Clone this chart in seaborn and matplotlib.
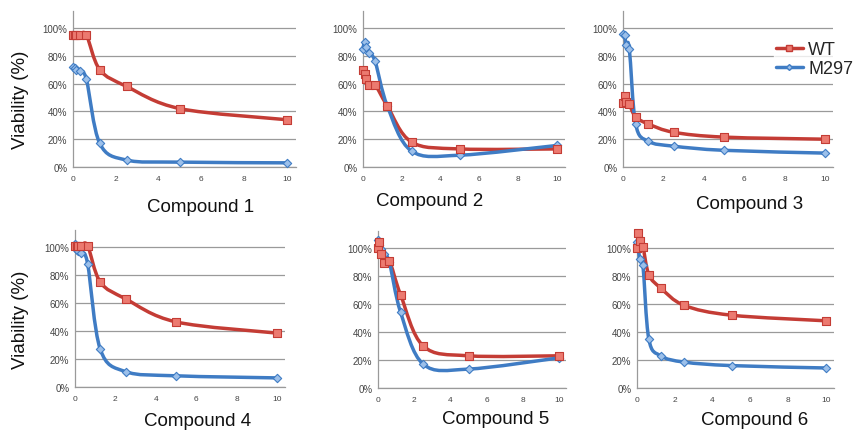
import numpy as np
import pandas as pd
import matplotlib
matplotlib.use("Agg")
import matplotlib.pyplot as plt
from matplotlib.path import Path
from matplotlib.patches import PathPatch
from matplotlib.lines import Line2D
import seaborn as sns

conc = [0, 0.078, 0.156, 0.3125, 0.625, 1.25, 2.5, 5, 10]
compounds = ["Compound 1", "Compound 2", "Compound 3",
             "Compound 4", "Compound 5", "Compound 6"]
wt = [
    [95, 95, 95, 95, 95, 70, 58, 42, 34],
    [70, 67, 63, 59, 59, 44, 18, 13, 13],
    [46, 51, 47, 45, 36, 31, 25, 21.5, 20],
    [101, 101, 101, 101, 101, 75, 63, 46.5, 38.5],
    [100, 104, 96, 89, 91, 66.5, 30, 23, 23],
    [100, 111, 105, 101, 81, 71.5, 59, 52, 48],
]
m297 = [
    [72, 71, 70, 69, 63, 17, 5, 3.5, 3],
    [85, 90, 86, 82, 76, 44, 11.5, 8.5, 15.5],
    [96, 95, 88, 85, 31, 18.5, 15, 12, 10],
    [102, 98, 97, 96, 88, 27, 11, 8, 6.5],
    [106, 102, 99, 96, 90, 54, 17, 13.5, 21.5],
    [104, 99, 92, 88, 35, 23, 18.5, 16, 14.3],
]
y_ticks = [0, 20, 40, 60, 80, 100]
x_ticks = [0, 2, 4, 6, 8, 10]

rows = []
for ci, c in enumerate(compounds):
    for x, v in zip(conc, wt[ci]):
        rows.append((c, "WT", x, v))
    for x, v in zip(conc, m297[ci]):
        rows.append((c, "M297", x, v))
df = pd.DataFrame(rows, columns=["compound", "strain", "conc", "viability"])

sns.set_theme(style="white")
plt.rcParams["font.family"] = ["Liberation Sans", "DejaVu Sans"]

RED_LINE = "#c43c35"
RED_FILL = "#ec7a70"
BLUE_LINE = "#3f7cc4"
BLUE_FILL = "#9cc0ea"
GRID = "#9a9a9a"

fig = plt.figure(figsize=(8.56, 4.35), dpi=100)
W, H = 856, 435

# (left px, px per x-unit, bottom px (0%), px per %)
layout = [
    (73, 21.4, 168, 1.39),
    (363, 19.4, 168, 1.39),
    (623, 20.2, 168, 1.39),
    (75, 20.2, 388, 1.40),
    (378, 18.1, 389, 1.40),
    (637, 18.9, 389, 1.40),
]
titles_pos = [(201, 208), (430, 201), (750, 205), (198, 422), (496, 420), (755, 421)]
XMAX = 10.4
YMAX = 112


def smooth_path(xs, ys):
    pts = np.column_stack([xs, ys]).astype(float)
    n = len(pts)
    verts = [pts[0]]
    codes = [Path.MOVETO]
    for i in range(n - 1):
        p0 = pts[i - 1] if i > 0 else pts[i]
        p1 = pts[i]
        p2 = pts[i + 1]
        p3 = pts[i + 2] if i + 2 < n else pts[i + 1]
        c1 = p1 + (p2 - p0) / 6.0
        c2 = p2 - (p3 - p1) / 6.0
        verts += [c1, c2, p2]
        codes += [Path.CURVE4] * 3
    return Path(verts, codes)


for i, comp in enumerate(compounds):
    left, pxu, bot, pxp = layout[i]
    ax = fig.add_axes([left / W, (H - bot) / H, XMAX * pxu / W, YMAX * pxp / H])
    sub = df[df["compound"] == comp]
    for strain, lc in [("WT", RED_LINE), ("M297", BLUE_LINE)]:
        s = sub[sub["strain"] == strain]
        patch = PathPatch(smooth_path(s["conc"].values, s["viability"].values),
                          facecolor="none", edgecolor=lc, lw=2.5, zorder=3,
                          capstyle="round", joinstyle="round", clip_on=False)
        ax.add_patch(patch)
    s = sub[sub["strain"] == "M297"]
    sns.scatterplot(data=s, x="conc", y="viability", ax=ax, marker="D", s=18,
                    color=BLUE_FILL, edgecolor=BLUE_LINE, linewidth=0.8,
                    zorder=4, legend=False, clip_on=False)
    s = sub[sub["strain"] == "WT"]
    sns.scatterplot(data=s, x="conc", y="viability", ax=ax, marker="s", s=40,
                    color=RED_FILL, edgecolor=RED_LINE, linewidth=0.8,
                    zorder=5, legend=False, clip_on=False)
    ax.set_xlim(0, XMAX)
    ax.set_ylim(0, YMAX)
    ax.set_yticks(y_ticks)
    ax.set_yticklabels([f"{t}%" for t in y_ticks])
    ax.set_xticks(x_ticks)
    ax.set_xticklabels([str(t) for t in x_ticks])
    ax.yaxis.grid(True, color=GRID, lw=0.9)
    ax.set_axisbelow(True)
    for sp in ["top", "right"]:
        ax.spines[sp].set_visible(False)
    for sp in ["left", "bottom"]:
        ax.spines[sp].set_color(GRID)
        ax.spines[sp].set_linewidth(0.9)
    ax.tick_params(axis="y", labelsize=7, colors="#444444", length=0, pad=4)
    ax.tick_params(axis="x", labelsize=6, colors="#444444", length=3,
                   direction="in", pad=6, color=GRID)
    ax.set_xlabel("")
    ax.set_ylabel("")
    tx, ty = titles_pos[i]
    fig.text(tx / W, (H - ty) / H, comp, ha="center", va="center",
             fontsize=13.5, color="#111111")

fig.text(21 / W, (H - 100) / H, "Viability (%)", rotation=90, ha="center",
         va="center", fontsize=13.5, color="#111111")
fig.text(21 / W, (H - 320) / H, "Viability (%)", rotation=90, ha="center",
         va="center", fontsize=13.5, color="#111111")

# legend
handles = [
    Line2D([], [], color=RED_LINE, lw=2.5, marker="s", markersize=4,
           markerfacecolor=RED_FILL, markeredgecolor=RED_LINE),
    Line2D([], [], color=BLUE_LINE, lw=2.5, marker="D", markersize=3,
           markerfacecolor=BLUE_FILL, markeredgecolor=BLUE_LINE),
]
leg = fig.legend(handles, ["WT", "M297"], loc="center left",
                 bbox_to_anchor=(774 / W, (H - 60) / H), frameon=True,
                 fontsize=13, handlelength=1.5, handletextpad=0.3,
                 labelspacing=0.1, borderpad=0.1, borderaxespad=0)
leg.get_frame().set_facecolor("white")
leg.get_frame().set_edgecolor("white")

fig.savefig("out.png", dpi=100)
